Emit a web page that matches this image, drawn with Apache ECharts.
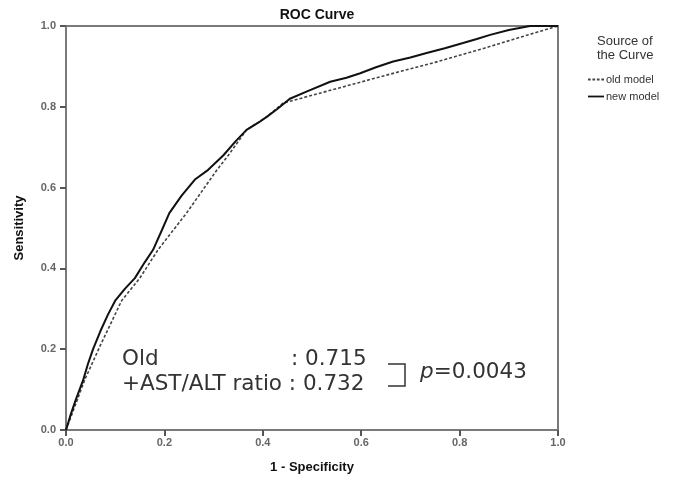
<!DOCTYPE html>
<html><head><meta charset="utf-8">
<script src="https://cdn.jsdelivr.net/npm/echarts@6/dist/echarts.min.js"></script>
<style>html,body{margin:0;padding:0;background:#fff}#c{width:686px;height:483px}</style>
</head><body><div id="c"></div>
<script>
const xTicks = [0, 0.2, 0.4, 0.6, 0.8, 1.0];
const yTicks = [0, 0.2, 0.4, 0.6, 0.8, 1.0];
const oldFpr = [0, 0.02, 0.038, 0.07, 0.113, 0.15, 0.187, 0.245, 0.307, 0.33, 0.367, 0.408, 0.441, 0.55, 0.65, 0.75, 0.85, 0.95, 1.0];
const oldTpr = [0, 0.065, 0.124, 0.21, 0.32, 0.376, 0.446, 0.537, 0.644, 0.68, 0.743, 0.775, 0.809, 0.845, 0.878, 0.91, 0.945, 0.982, 1.0];
const newFpr = [0, 0.01, 0.02, 0.035, 0.045, 0.055, 0.07, 0.085, 0.10, 0.12, 0.14, 0.16, 0.177, 0.195, 0.21, 0.235, 0.262, 0.289, 0.32, 0.345, 0.367, 0.39, 0.408, 0.43, 0.455, 0.49, 0.537, 0.57, 0.598, 0.63, 0.665, 0.70, 0.733, 0.77, 0.807, 0.835, 0.862, 0.90, 0.943, 0.97, 1.0];
const newTpr = [0, 0.04, 0.075, 0.124, 0.165, 0.2, 0.245, 0.285, 0.32, 0.35, 0.376, 0.415, 0.446, 0.495, 0.537, 0.58, 0.62, 0.644, 0.68, 0.715, 0.743, 0.76, 0.775, 0.795, 0.82, 0.838, 0.862, 0.872, 0.883, 0.898, 0.912, 0.922, 0.933, 0.945, 0.958, 0.968, 0.978, 0.99, 1.0, 1.0, 1.0];
const seriesNames = ['old model', 'new model'];
const aucOld = '0.715', aucNew = '0.732', pValue = '0.0043';

const zip = (a, b) => a.map((v, i) => [v, b[i]]);
const chart = echarts.init(document.getElementById('c'), null, {renderer: 'canvas'});
const FONT_A = 'Arial, "Liberation Sans", sans-serif';
const FONT_B = '"DejaVu Sans", sans-serif';
const axisCommon = {
  type: 'value', min: 0, max: 1, interval: 0.2,
  axisLine: {show: true, lineStyle: {color: '#7a7a7a', width: 2}},
  axisTick: {show: true, length: 6, lineStyle: {color: '#555', width: 2}},
  splitLine: {show: false},
  axisLabel: {color: '#666', fontFamily: FONT_A, fontSize: 11, fontWeight: 'bold', formatter: v => v.toFixed(1)},
  nameTextStyle: {color: '#111', fontFamily: FONT_A, fontSize: 13, fontWeight: 'bold'}
};
chart.setOption({
  animation: false,
  title: {text: 'ROC Curve', left: 312, top: 3, textAlign: 'center',
    textStyle: {fontFamily: FONT_A, fontSize: 14, fontWeight: 'bold', color: '#111'}},
  grid: {left: 66, right: 128, top: 26, bottom: 53, show: true, borderColor: '#7a7a7a', borderWidth: 2, backgroundColor: '#fff'},
  xAxis: Object.assign({}, axisCommon, {name: '1 - Specificity', nameLocation: 'middle', nameGap: 31,
    axisLabel: Object.assign({}, axisCommon.axisLabel, {margin: 7})}),
  yAxis: Object.assign({}, axisCommon, {name: 'Sensitivity', nameLocation: 'middle', nameGap: 40,
    axisLabel: Object.assign({}, axisCommon.axisLabel, {margin: 10})}),
  legend: {orient: 'vertical', left: 583, top: 69, itemWidth: 16, itemHeight: 2, itemGap: 6,
    textStyle: {fontFamily: FONT_A, fontSize: 11, color: '#333', padding: [0, 0, 0, -3]},
    data: [
      {name: seriesNames[0], icon: 'path://M0,0h3v2h-3z M5,0h3v2h-3z M10,0h3v2h-3z M15,0h3v2h-3z'},
      {name: seriesNames[1], icon: 'path://M0,0h18v2h-18z'}
    ]},
  series: [
    {name: seriesNames[0], type: 'line', showSymbol: false, symbol: 'none', data: zip(oldFpr, oldTpr),
      lineStyle: {color: '#444', width: 1.6, type: [3, 2]}, itemStyle: {color: '#444'}, z: 2},
    {name: seriesNames[1], type: 'line', showSymbol: false, symbol: 'none', data: zip(newFpr, newTpr),
      lineStyle: {color: '#111', width: 2}, itemStyle: {color: '#111'}, z: 3}
  ],
  graphic: [
    {type: 'text', left: 597, top: 34, style: {text: 'Source of\nthe Curve', fill: '#333', align: 'center', x: 28, lineHeight: 14,
      font: '13px ' + FONT_A}},
    {type: 'text', left: 122, top: 348, style: {text: 'Old', fill: '#333', font: '21.5px ' + FONT_B}},
    {type: 'text', left: 291, top: 348, style: {text: ': ' + aucOld, fill: '#333', font: '21.5px ' + FONT_B}},
    {type: 'text', left: 122, top: 373, style: {text: '+AST/ALT ratio : ' + aucNew, fill: '#333', font: '21.5px ' + FONT_B}},
    {type: 'polyline', shape: {points: [[388, 364], [405, 364], [405, 386], [388, 386]]}, style: {stroke: '#333', lineWidth: 1.5, fill: null}},
    {type: 'text', left: 420, top: 361, style: {rich: {i: {fontStyle: 'italic', fontSize: 21.5, fontFamily: FONT_B, fill: '#333'},
      n: {fontSize: 21.5, fontFamily: FONT_B, fill: '#333'}}, text: '{i|p}{n|=' + pValue + '}'}}
  ]
});
</script></body></html>
